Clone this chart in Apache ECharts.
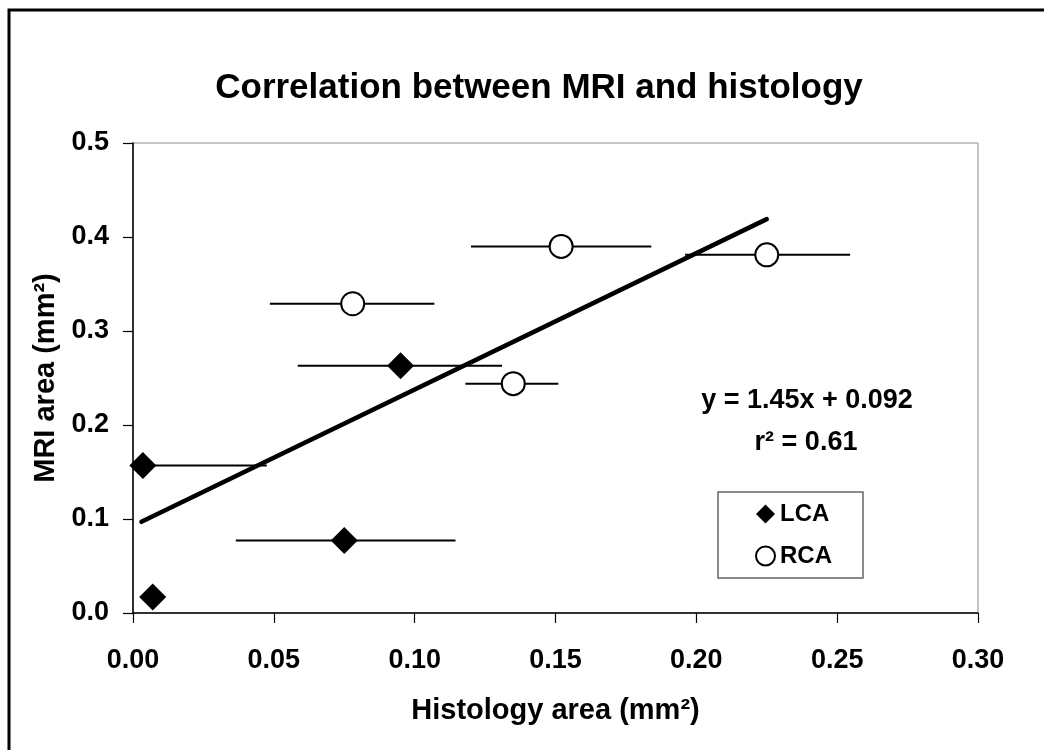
<!DOCTYPE html>
<html>
<head>
<meta charset="utf-8">
<script src="https://cdn.jsdelivr.net/npm/echarts@6/dist/echarts.min.js"></script>
<style>
html,body{margin:0;padding:0;background:#fff;}
#chart{width:1044px;height:750px;}
</style>
</head>
<body>
<div id="chart"></div>
<script>
// ---- data ----
var lcaX    = [0.0035, 0.007, 0.075, 0.095];
var lcaY    = [0.157, 0.017, 0.077, 0.263];
var lcaXLow = [0.000, 0.007, 0.0365, 0.0585];
var lcaXHigh= [0.0475, 0.007, 0.1145, 0.131];

var rcaX    = [0.078, 0.152, 0.225, 0.135];
var rcaY    = [0.329, 0.390, 0.381, 0.244];
var rcaXLow = [0.0486, 0.120, 0.196, 0.118];
var rcaXHigh= [0.107, 0.184, 0.2546, 0.151];

var trendX = [0.003, 0.225];
var trendY = [0.097, 0.419];

var xTicks = [0, 0.30, 0.05];   // min, max, interval
var yTicks = [0, 0.5, 0.1];

var titleText = 'Correlation between MRI and histology';
var eqText = 'y = 1.45x + 0.092';
var r2Text = 'r\u00b2 = 0.61';
var FONT = '"Liberation Sans", Arial, Helvetica, sans-serif';

function pairs(xs, ys){ return xs.map(function(x,i){ return [x, ys[i]]; }); }
function bars(lo, hi, ys){ return lo.map(function(l,i){ return [l, hi[i], ys[i]]; }); }

function errRender(params, api){
  var p1 = api.coord([api.value(0), api.value(2)]);
  var p2 = api.coord([api.value(1), api.value(2)]);
  return {
    type: 'line',
    shape: {x1: p1[0], y1: p1[1], x2: p2[0], y2: p2[1]},
    style: {stroke: '#000', lineWidth: 2}
  };
}

var chart = echarts.init(document.getElementById('chart'), null, {renderer: 'canvas'});
chart.setOption({
  animation: false,
  backgroundColor: '#fff',
  textStyle: {fontFamily: FONT},
  grid: {left: 133, right: 66, top: 143, bottom: 137, show: true,
         borderColor: '#8a8a8a', borderWidth: 1, backgroundColor: 'transparent'},
  title: {
    text: titleText, left: 534, top: 66, textAlign: 'center',
    textStyle: {fontFamily: FONT, fontSize: 35, fontWeight: 'bold', color: '#000'}
  },
  legend: {
    orient: 'vertical', left: 718, top: 492,
    padding: [10, 31, 10, 37], itemGap: 18, itemWidth: 19, itemHeight: 19,
    borderColor: '#666', borderWidth: 1.5, backgroundColor: '#fff',
    textStyle: {fontFamily: FONT, fontSize: 24, fontWeight: 'bold', color: '#000'},
    data: [{name: 'LCA', icon: 'diamond'}, {name: 'RCA', icon: 'circle'}]
  },
  xAxis: {
    type: 'value', min: xTicks[0], max: xTicks[1], interval: xTicks[2],
    splitLine: {show: false},
    axisLine: {show: true, onZero: false, lineStyle: {color: '#000', width: 1.5}},
    axisTick: {show: true, inside: false, length: 10, lineStyle: {color: '#000', width: 1.2}},
    axisLabel: {margin: 34, color: '#000', fontSize: 27, fontWeight: 'bold', fontFamily: FONT,
                formatter: function(v){ return v.toFixed(2); }},
    name: 'Histology area (mm\u00b2)', nameLocation: 'middle', nameGap: 83,
    nameTextStyle: {color: '#000', fontSize: 29, fontWeight: 'bold', fontFamily: FONT}
  },
  yAxis: {
    type: 'value', min: yTicks[0], max: yTicks[1], interval: yTicks[2],
    splitLine: {show: false},
    axisLine: {show: true, onZero: false, lineStyle: {color: '#000', width: 1.5}},
    axisTick: {show: true, inside: false, length: 10, lineStyle: {color: '#000', width: 1.2}},
    axisLabel: {margin: 24, color: '#000', fontSize: 27, fontWeight: 'bold', fontFamily: FONT,
                formatter: function(v){ return v.toFixed(1); }},
    name: 'MRI area (mm\u00b2)', nameLocation: 'middle', nameGap: 70, nameRotate: 90,
    nameTextStyle: {color: '#000', fontSize: 29, fontWeight: 'bold', fontFamily: FONT}
  },
  series: [
    {type: 'custom', name: 'lcaErr', renderItem: errRender, data: bars(lcaXLow, lcaXHigh, lcaY),
     encode: {x: [0, 1], y: 2}, clip: true, z: 1, silent: true},
    {type: 'custom', name: 'rcaErr', renderItem: errRender, data: bars(rcaXLow, rcaXHigh, rcaY),
     encode: {x: [0, 1], y: 2}, clip: true, z: 1, silent: true},
    {type: 'line', name: 'trend', data: pairs(trendX, trendY), symbol: 'none',
     lineStyle: {color: '#000', width: 4.5, cap: 'round'}, z: 2, silent: true},
    {type: 'scatter', name: 'LCA', data: pairs(lcaX, lcaY), symbol: 'diamond', symbolSize: [27, 27],
     itemStyle: {color: '#000', opacity: 1}, z: 3},
    {type: 'scatter', name: 'RCA', data: pairs(rcaX, rcaY), symbol: 'circle', symbolSize: 23,
     itemStyle: {color: '#fff', borderColor: '#000', borderWidth: 2, opacity: 1}, z: 3}
  ],
  graphic: [
    {type: 'rect', z: -10, silent: true, shape: {x: 9, y: 10, width: 1200, height: 900},
     style: {fill: 'none', stroke: '#000', lineWidth: 3}},
    {type: 'text', x: 807, y: 401, silent: true,
     style: {text: eqText, textAlign: 'center', textVerticalAlign: 'middle',
             font: 'bold 27px ' + FONT, fill: '#000'}},
    {type: 'text', x: 806, y: 443, silent: true,
     style: {text: r2Text, textAlign: 'center', textVerticalAlign: 'middle',
             font: 'bold 27px ' + FONT, fill: '#000'}}
  ]
});
</script>
</body>
</html>
